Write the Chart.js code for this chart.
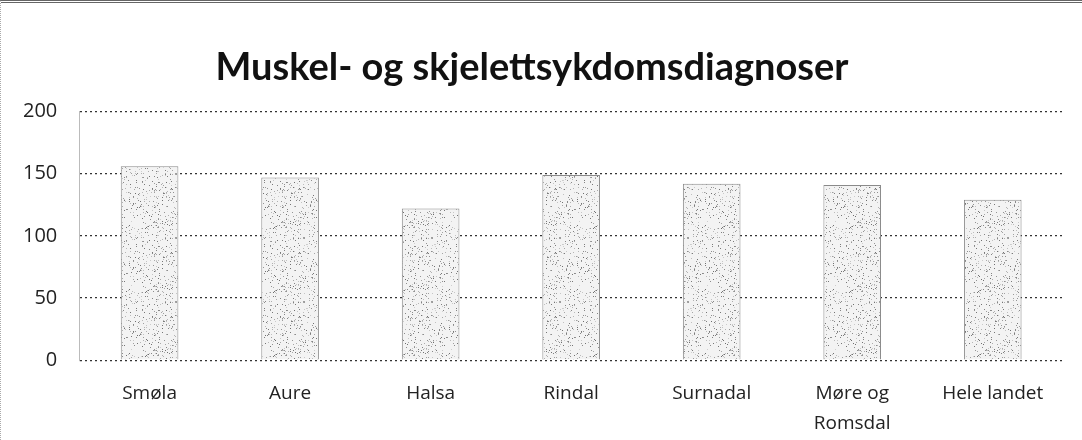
<!DOCTYPE html>
<html><head><meta charset="utf-8">
<script src="https://cdn.jsdelivr.net/npm/chart.js@4/dist/chart.umd.min.js"></script>
<style>
html,body{margin:0;padding:0;background:#fff;overflow:hidden;}
#wrap{position:absolute;left:0;top:0;width:1082px;height:440px;overflow:hidden;box-sizing:border-box;border-top:3px double #666;border-left:1px dotted #aaa;}
canvas{display:block;}
</style></head>
<body><div id="wrap"><canvas id="c" width="1081" height="446"></canvas></div>
<script>
const categories = ["Smøla","Aure","Halsa","Rindal","Surnadal",["Møre og","Romsdal"],"Hele landet"];
const values = [156,147,122,149,142,141,129];
const yTicks = [0,50,100,150,200];

function makePattern(){
  const p=document.createElement('canvas');p.width=64;p.height=64;
  const g=p.getContext('2d');
  g.fillStyle='#f3f3f3';g.fillRect(0,0,64,64);
  let s=12345;
  function r(){s=(s*1103515245+12345)%2147483648;return s/2147483648;}
  for(let i=0;i<380;i++){
    const sh=Math.floor(110+r()*100);
    g.fillStyle='rgb('+sh+','+sh+','+sh+')';
    g.fillRect(Math.floor(r()*64),Math.floor(r()*64),1,1);
  }
  return g.createPattern(p,'repeat');
}
const ctx=document.getElementById('c').getContext('2d');
new Chart(ctx,{
  type:'bar',
  data:{labels:categories,datasets:[{data:values,backgroundColor:makePattern(),borderColor:'#8a8a8a',borderWidth:1,borderDash:[2,2],categoryPercentage:1,barPercentage:0.41}]},
  options:{
    responsive:false,animation:false,
    layout:{padding:{left:0,right:19,top:0,bottom:0}},
    plugins:{legend:{display:false},tooltip:{enabled:false},
      title:{display:true,text:'Muskel- og skjelettsykdomsdiagnoser',color:'#111',font:{family:'Lato',size:38,weight:'bold'},padding:{top:42,bottom:21}}},
    scales:{
      x:{grid:{display:false},border:{display:false},ticks:{color:'#222',font:{family:'Open Sans',size:19,lineHeight:1.6},padding:10}},
      y:{min:0,max:200,afterBuildTicks:(ax)=>{ax.ticks=yTicks.map(v=>({value:v}));},
        grid:{color:'#333',lineWidth:1.2,drawTicks:false},
        border:{display:true,color:'#bbb',dash:[2,3]},
        ticks:{color:'#222',font:{family:'Open Sans',size:20},padding:22}}
    }
  }
});
</script></body></html>
